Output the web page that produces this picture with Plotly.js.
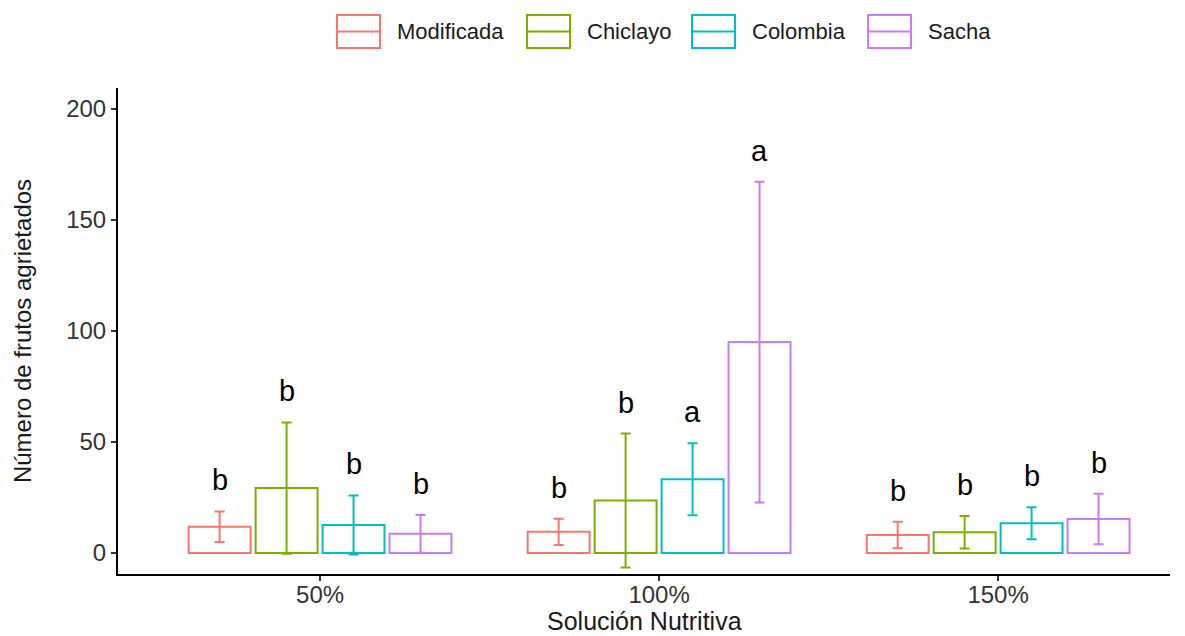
<!DOCTYPE html>
<html>
<head>
<meta charset="utf-8">
<script src="https://cdn.plot.ly/plotly-3.0.1.min.js"></script>
<style>html,body{margin:0;padding:0;background:#fff;}#chart{width:1185px;height:636px;}</style>
</head>
<body>
<div id="chart"></div>
<script>
const groups = ["50%", "100%", "150%"];
const groupPos = [1, 2, 3];
const series = ["Modificada", "Chiclayo", "Colombia", "Sacha"];
const colors = ["#F8766D", "#7CAE00", "#00BFC4", "#C77CFF"];
const modificada = [11.8, 9.5, 8.1];
const chiclayo = [29.2, 23.6, 9.3];
const colombia = [12.6, 33.2, 13.4];
const sacha = [8.6, 95.0, 15.3];
const errModificada = [6.9, 5.9, 6.0];
const errChiclayo = [29.6, 30.2, 7.3];
const errColombia = [13.3, 16.2, 7.2];
const errSacha = [8.5, 72.3, 11.4];
const letModificada = ["b", "b", "b"];
const letChiclayo = ["b", "b", "b"];
const letColombia = ["b", "a", "b"];
const letSacha = ["b", "a", "b"];
const xTitle = "Solución Nutritiva";
const yTitle = "Número de frutos agrietados";

const vals = [modificada, chiclayo, colombia, sacha];
const errs = [errModificada, errChiclayo, errColombia, errSacha];
const lets = [letModificada, letChiclayo, letColombia, letSacha];

const W = 1185, H = 636;
const M = {l: 118, r: 15, t: 88, b: 62};
const plotW = W - M.l - M.r, plotH = H - M.t - M.b;
const px2x = px => (px - M.l) / plotW;
const px2y = py => (H - M.b - py) / plotH;

const bargap = 0.21;
const slot = (1 - bargap) / series.length;
const FONT = "Liberation Sans, Arial, sans-serif";

const traces = series.map((name, i) => ({
  type: "bar",
  name: name,
  x: groupPos,
  y: vals[i],
  marker: {color: "rgba(255,255,255,0)", line: {color: colors[i], width: 2}},
  error_y: {type: "data", array: errs[i], visible: true, color: colors[i], thickness: 2, width: 5},
  hoverinfo: "x+y"
}));

const annotations = [];
series.forEach((name, i) => {
  groupPos.forEach((g, j) => {
    annotations.push({
      x: g + (i - (series.length - 1) / 2) * slot,
      y: vals[i][j] + errs[i][j],
      xref: "x", yref: "y",
      text: lets[i][j],
      showarrow: false,
      yanchor: "bottom",
      yshift: 13,
      font: {family: FONT, size: 29, color: "#000"}
    });
  });
});

// manual legend (ggplot-style boxes with a middle line)
const legendBoxX = [337, 527, 692, 868];
const legendTop = 15, legendBot = 48, boxW = 43;
const shapes = [];
series.forEach((name, i) => {
  const x0 = legendBoxX[i], x1 = x0 + boxW;
  shapes.push({type: "rect", xref: "paper", yref: "paper",
    x0: px2x(x0), x1: px2x(x1), y0: px2y(legendBot), y1: px2y(legendTop),
    line: {color: colors[i], width: 2}, fillcolor: "rgba(0,0,0,0)"});
  shapes.push({type: "line", xref: "paper", yref: "paper",
    x0: px2x(x0), x1: px2x(x1), y0: px2y((legendTop + legendBot) / 2), y1: px2y((legendTop + legendBot) / 2),
    line: {color: colors[i], width: 2}});
  annotations.push({xref: "paper", yref: "paper", x: px2x(x1 + 15), y: px2y((legendTop + legendBot) / 2),
    xanchor: "left", yanchor: "middle", showarrow: false, text: name,
    font: {family: FONT, size: 22, color: "#1a1a1a"}});
});

// x-axis title placed in the bottom margin
annotations.push({xref: "paper", yref: "paper", x: 0.5, y: px2y(H),
  xanchor: "center", yanchor: "bottom", showarrow: false, text: xTitle,
  borderpad: 0,
  font: {family: FONT, size: 25, color: "#1a1a1a"}});

const layout = {
  width: W, height: H,
  margin: M,
  paper_bgcolor: "#fff", plot_bgcolor: "#fff",
  barmode: "group", bargap: bargap, bargroupgap: 0.075,
  font: {family: FONT, color: "#333"},
  showlegend: false,
  xaxis: {
    range: [0.404, 3.507], tickvals: groupPos, ticktext: groups,
    showgrid: false, zeroline: false, showline: true, linecolor: "#000", linewidth: 2,
    ticks: "outside", ticklen: 5, tickcolor: "#333", tickwidth: 2,
    ticklabelstandoff: -7,
    tickfont: {size: 24, color: "#333"}
  },
  yaxis: {
    range: [-9.5, 209.5], tickvals: [0, 50, 100, 150, 200],
    showgrid: false, zeroline: false, showline: true, linecolor: "#000", linewidth: 2,
    ticks: "outside", ticklen: 5, tickcolor: "#333", tickwidth: 2,
    tickfont: {size: 24, color: "#333"},
    title: {text: yTitle, font: {size: 24, color: "#1a1a1a"}, standoff: 28}
  },
  shapes: shapes,
  annotations: annotations
};

Plotly.newPlot("chart", traces, layout, {displayModeBar: false, staticPlot: true});
</script>
</body>
</html>
